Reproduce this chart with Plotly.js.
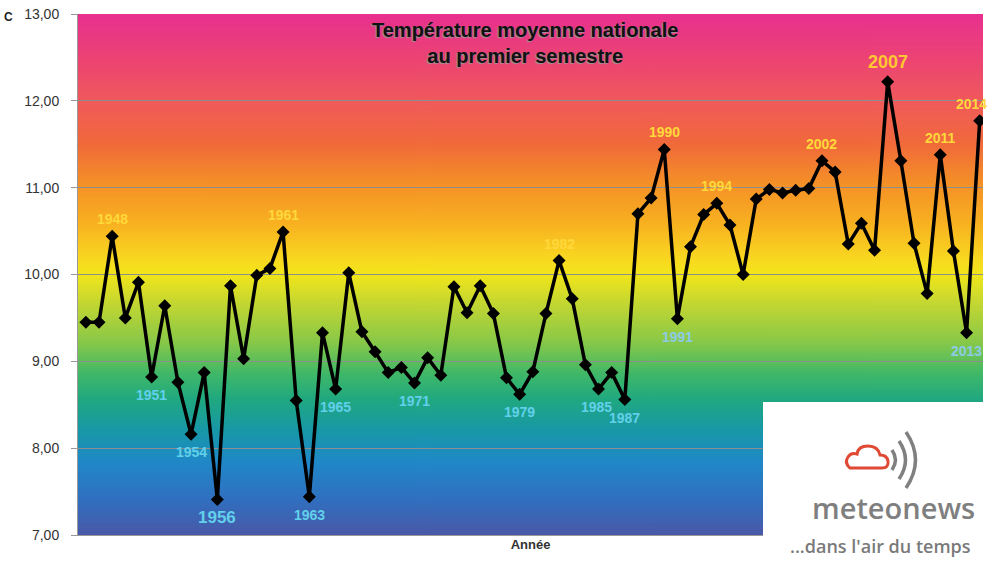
<!DOCTYPE html>
<html>
<head>
<meta charset="utf-8">
<script src="https://cdn.plot.ly/plotly-3.0.1.min.js"></script>
<style>
html,body{margin:0;padding:0;background:#fff;}
#chart{width:1000px;height:562px;}
</style>
</head>
<body>
<div id="chart"></div>
<script>
// ---- data ----
const years = [];
for (let y = 1946; y <= 2014; y++) years.push(y);
const temps = [
  9.45, 9.45, 10.44, 9.50, 9.91, 8.82, 9.64, 8.76, 8.16, 8.87,
  7.41, 9.87, 9.03, 9.99, 10.07, 10.49, 8.55, 7.44, 9.33, 8.68,
  10.02, 9.34, 9.11, 8.87, 8.93, 8.75, 9.04, 8.84, 9.86, 9.56,
  9.87, 9.55, 8.81, 8.62, 8.88, 9.55, 10.16, 9.72, 8.96, 8.68,
  8.87, 8.56, 10.70, 10.88, 11.44, 9.49, 10.32, 10.69, 10.82, 10.57,
  10.00, 10.87, 10.98, 10.94, 10.97, 10.99, 11.31, 11.18, 10.35, 10.59,
  10.28, 12.22, 11.31, 10.36, 9.78, 11.38, 10.27, 9.33, 11.77
];
const warmYears = [1948, 1961, 1982, 1990, 1994, 2002, 2007, 2011, 2014];
const coldYears = [1951, 1954, 1956, 1963, 1965, 1971, 1979, 1985, 1987, 1991, 2013];
const yTicks = [7, 8, 9, 10, 11, 12, 13];

const titleText = 'Température moyenne nationale<br>au premier semestre';
const xTitle = 'Année';
const unitText = 'C';
const logoName = 'meteonews';
const logoSlogan = '...dans l\'air du temps';

// ---- gradient background (colour stops from top to bottom) ----
const gradStops = [
  [0.00, '#E8308F'], [0.09, '#EC4472'], [0.17, '#F05A5A'], [0.25, '#F06A3A'],
  [0.32, '#F48E28'], [0.40, '#F8B020'], [0.47, '#F8D820'], [0.50, '#F2E61A'],
  [0.55, '#C8D830'], [0.63, '#88C848'], [0.69, '#40B868'], [0.74, '#20A880'],
  [0.80, '#1898A8'], [0.86, '#2088C8'], [0.93, '#3070C0'], [1.00, '#4A58A8']
];
function gradientURL() {
  const c = document.createElement('canvas');
  c.width = 4; c.height = 600;
  const ctx = c.getContext('2d');
  const g = ctx.createLinearGradient(0, 0, 0, 600);
  gradStops.forEach(s => g.addColorStop(s[0], s[1]));
  ctx.fillStyle = g;
  ctx.fillRect(0, 0, 4, 600);
  return c.toDataURL('image/png');
}

// pixel -> paper helpers for the logo drawing
const L = 78, R = 983, T = 14, B = 535;
const px = x => (x - L) / (R - L);
const py = y => (B - y) / (B - T);
function pathFromPx(cmds) {
  return cmds.map(c => {
    if (c[0] === 'Z') return 'Z';
    const out = [c[0]];
    for (let i = 1; i < c.length; i += 2) out.push(px(c[i]).toFixed(4) + ',' + py(c[i + 1]).toFixed(4));
    return out.join(' ');
  }).join(' ');
}

const trace = {
  x: years, y: temps, type: 'scatter', mode: 'lines+markers',
  line: {color: '#000', width: 3.5},
  marker: {symbol: 'diamond', size: 10, color: '#000'},
  hoverinfo: 'x+y', showlegend: false
};

const annotations = [];
const valueOf = yr => temps[years.indexOf(yr)];
warmYears.forEach(yr => {
  const big = yr === 2007;
  annotations.push({
    x: yr, y: valueOf(yr), xref: 'x', yref: 'y', text: String(yr), showarrow: false,
    yanchor: 'bottom', yshift: big ? 8 : 7, xshift: yr === 2014 ? -8 : 0,
    font: {family: 'Liberation Sans, Arial', size: big ? 18 : 14, color: big ? '#FFC830' : '#FFD83A', weight: 'bold'}
  });
});
coldYears.forEach(yr => {
  const big = yr === 1956;
  const pale = (yr === 1991 || yr === 2013);
  annotations.push({
    x: yr, y: valueOf(yr), xref: 'x', yref: 'y', text: String(yr), showarrow: false,
    yanchor: 'top', yshift: big ? -7 : -8, xshift: (yr === 1985 ? -2 : 0),
    font: {family: 'Liberation Sans, Arial', size: big ? 17 : 14, color: pale ? '#8CCBE6' : '#62D0EA', weight: 'bold'}
  });
});
// title
annotations.push({
  x: px(525), y: py(43), xref: 'paper', yref: 'paper', text: titleText, showarrow: false,
  xanchor: 'center', yanchor: 'middle', align: 'center',
  font: {family: 'Liberation Sans, Arial', size: 20, color: '#111', weight: 'bold', shadow: '-1px 1px 1px #999'}
});
// unit fragment top-left
annotations.push({
  x: px(8), y: py(17), xref: 'paper', yref: 'paper', text: unitText, showarrow: false,
  xanchor: 'center', yanchor: 'middle',
  font: {family: 'Liberation Sans, Arial', size: 12, color: '#222', weight: 'bold'}
});
// logo texts
annotations.push({
  x: px(893), y: py(507), xref: 'paper', yref: 'paper', text: logoName, showarrow: false,
  xanchor: 'center', yanchor: 'middle',
  font: {family: 'Open Sans, Noto Sans', size: 29, color: '#7f7f7f', weight: 600}
});
annotations.push({
  x: px(880), y: py(546), xref: 'paper', yref: 'paper', text: logoSlogan, showarrow: false,
  xanchor: 'center', yanchor: 'middle',
  font: {family: 'Open Sans, Noto Sans', size: 18, color: '#7a7a7a', weight: 600}
});

const shapes = [
  // darker reference line at 10
  {type: 'line', xref: 'paper', yref: 'y', x0: 0, x1: 1, y0: 10, y1: 10,
   line: {color: '#3a3a3a', width: 1}, layer: 'below'},
  // logo white box
  {type: 'rect', xref: 'paper', yref: 'paper', x0: px(763), x1: px(1005), y0: py(402), y1: py(570),
   fillcolor: '#ffffff', line: {width: 0}, layer: 'above'},
  // cloud
  {type: 'path', xref: 'paper', yref: 'paper', layer: 'above',
   path: pathFromPx([['M', 850, 468], ['L', 882, 468], ['Q', 889, 468, 888, 461], ['Q', 887, 455, 880, 455],
                     ['Q', 878, 446, 868, 446], ['Q', 858, 446, 857, 454], ['Q', 851, 452, 848, 457],
                     ['Q', 844, 463, 850, 468], ['Z']]),
   fillcolor: '#ffffff', line: {color: '#E04A35', width: 3}},
  // signal arcs
  {type: 'path', xref: 'paper', yref: 'paper', layer: 'above',
   path: pathFromPx([['M', 892, 450], ['Q', 899, 460, 892, 470]]), line: {color: '#808080', width: 3.5}},
  {type: 'path', xref: 'paper', yref: 'paper', layer: 'above',
   path: pathFromPx([['M', 899, 441], ['Q', 912, 460, 899, 479]]), line: {color: '#808080', width: 3.5}},
  {type: 'path', xref: 'paper', yref: 'paper', layer: 'above',
   path: pathFromPx([['M', 906, 432], ['Q', 925, 460, 906, 488]]), line: {color: '#808080', width: 3.5}}
];

const layout = {
  width: 1000, height: 562,
  margin: {l: L, r: 1000 - R, t: T, b: 562 - B, pad: 0},
  paper_bgcolor: '#ffffff', plot_bgcolor: 'rgba(0,0,0,0)',
  font: {family: 'Liberation Sans, Arial', size: 13, color: '#333'},
  xaxis: {
    range: [1945.4, 2014.25], showticklabels: false, ticks: '', showgrid: false, zeroline: false,
    showline: true, linecolor: '#999', linewidth: 1, fixedrange: true,
    title: {text: xTitle, standoff: 4, font: {family: 'Liberation Sans, Arial', size: 13, color: '#333', weight: 'bold'}}
  },
  yaxis: {
    range: [7, 13], tickvals: yTicks, tickformat: '.2f', ticks: 'outside', ticklen: 6, tickcolor: '#999',
    ticklabelstandoff: 9,
    showgrid: true, gridcolor: '#8e8e8e', gridwidth: 1, zeroline: false,
    showline: true, linecolor: '#999', linewidth: 1, fixedrange: true,
    tickfont: {family: 'Liberation Sans, Arial', size: 14, color: '#333'}
  },
  separators: ', ',
  images: [{
    source: gradientURL(), xref: 'paper', yref: 'paper', x: 0, y: 1, sizex: 1, sizey: 1,
    xanchor: 'left', yanchor: 'top', sizing: 'stretch', layer: 'below'
  }],
  shapes: shapes,
  annotations: annotations,
  showlegend: false
};

Plotly.newPlot('chart', [trace], layout, {displayModeBar: false, staticPlot: true});
</script>
</body>
</html>
